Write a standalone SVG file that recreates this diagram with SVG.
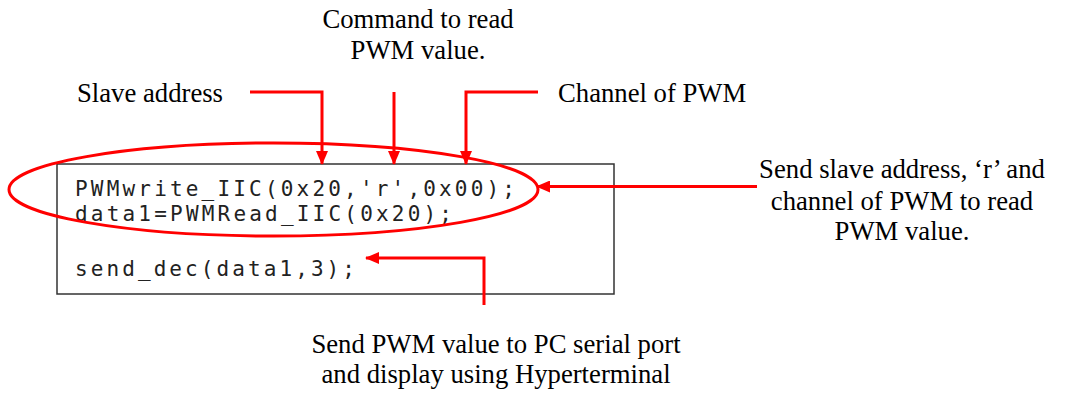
<svg xmlns="http://www.w3.org/2000/svg" width="1077" height="394" viewBox="0 0 1077 394">
<style>
.lbl{font-family:"Liberation Serif","Times New Roman",Times,"DejaVu Serif",serif;font-size:26.7px;fill:#000}
.code{font-family:"DejaVu Sans Mono","Liberation Mono",monospace;font-size:21px;fill:#222}
.wire{fill:none;stroke:#ff0000;stroke-width:3}
</style>
<defs>
<marker id="ah" viewBox="0 0 14 12" refX="13" refY="6" markerWidth="14" markerHeight="12" markerUnits="userSpaceOnUse" orient="auto">
<path d="M0,0 L14,6 L0,12 Z" fill="#ff0000"/>
</marker>
</defs>
<rect width="1077" height="394" fill="#fff"/>
<g id="codebox">
<rect x="57" y="164" width="557" height="130" fill="#fff" stroke="#333" stroke-width="1.5"/>
<text class="code" x="75" y="196" textLength="440" lengthAdjust="spacing">PWMwrite_IIC(0x20,'r',0x00);</text>
<text class="code" x="75" y="221" textLength="377" lengthAdjust="spacing">data1=PWMRead_IIC(0x20);</text>
<text class="code" x="75" y="276" textLength="280" lengthAdjust="spacing">send_dec(data1,3);</text>
</g>
<g id="highlight">
<ellipse cx="273.5" cy="189.5" rx="264.5" ry="46.5" fill="none" stroke="#ff0000" stroke-width="3"/>
</g>
<g id="connectors">
<path class="wire" d="M250,92 H322 V164" marker-end="url(#ah)"/>
<path class="wire" d="M394,92 V164" marker-end="url(#ah)"/>
<path class="wire" d="M538,92 H466 V164" marker-end="url(#ah)"/>
<path class="wire" d="M757,186.5 H537" marker-end="url(#ah)"/>
<path class="wire" d="M484,305 V258 H366" marker-end="url(#ah)"/>
</g>
<g id="label-slave">
<text class="lbl" x="77" y="102">Slave address</text>
</g>
<g id="label-command">
<text class="lbl" x="418" y="28" text-anchor="middle">Command to read</text>
<text class="lbl" x="418" y="59" text-anchor="middle">PWM value.</text>
</g>
<g id="label-channel">
<text class="lbl" x="558" y="102">Channel of PWM</text>
</g>
<g id="label-send">
<text class="lbl" x="902" y="178" text-anchor="middle">Send slave address, ‘r’ and</text>
<text class="lbl" x="902" y="210" text-anchor="middle">channel of PWM to read</text>
<text class="lbl" x="902" y="240" text-anchor="middle">PWM value.</text>
</g>
<g id="label-serial">
<text class="lbl" x="496" y="353" text-anchor="middle">Send PWM value to PC serial port</text>
<text class="lbl" x="496" y="383" text-anchor="middle">and display using Hyperterminal</text>
</g>
</svg>
